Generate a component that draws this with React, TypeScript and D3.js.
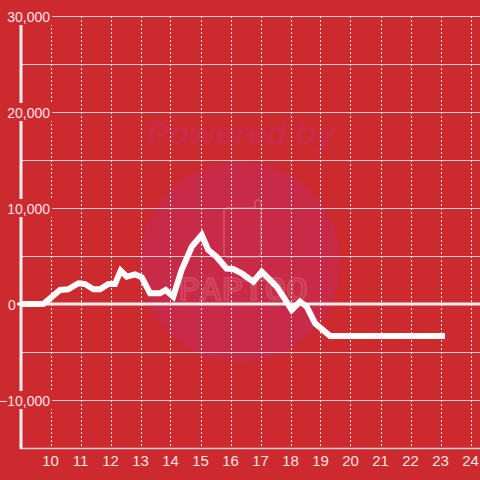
import React, { useEffect, useRef } from "react";
import * as d3 from "d3";

const times = [9.0, 9.76, 10.32, 10.59, 10.93, 11.15, 11.43, 11.65, 11.93, 12.15, 12.34, 12.54, 12.82, 13.04, 13.32, 13.65, 13.84, 14.09, 14.37, 14.71, 15.04, 15.26, 15.54, 15.87, 16.09, 16.37, 16.76, 17.04, 17.54, 17.76, 18.04, 18.32, 18.54, 18.82, 19.32, 23.15];
const values = [0, 0, 1460, 1530, 2160, 2080, 1530, 1530, 2080, 2080, 3470, 2840, 3090, 2780, 1110, 1110, 1460, 760, 3540, 5970, 7190, 5625, 4900, 3700, 3650, 3200, 2320, 3360, 1800, 760, -625, 240, -280, -2010, -3330, -3330];
const xTicks = [10, 11, 12, 13, 14, 15, 16, 17, 18, 19, 20, 21, 22, 23, 24];
const yGrid = [-15000, -10000, -5000, 0, 5000, 10000, 15000, 20000, 25000, 30000];
const yLabels = [-10000, 0, 10000, 20000, 30000];

const W = 480, H = 480;
const BG = "#cd2a2f";
const TXT = "#f3e4e4";

export default function App() {
  const ref = useRef<SVGSVGElement>(null);
  useEffect(() => {
    const svg = d3.select(ref.current);
    svg.selectAll("*").remove();
    const x = d3.scaleLinear().domain([9, 24]).range([20.5, 470.5]);
    const y = d3.scaleLinear().domain([-15000, 30000]).range([448, 16]);

    svg.append("rect").attr("width", W).attr("height", H).attr("fill", BG);

    // watermark
    svg.append("circle").attr("cx", 240).attr("cy", 262).attr("r", 100).attr("fill", "#c92a48");
    svg.append("text").attr("x", 147).attr("y", 144)
      .attr("font-family", "Liberation Sans, Arial, sans-serif").attr("font-size", 32)
      .attr("font-weight", "bold").attr("font-style", "italic").attr("fill", "#cb2b47")
      .attr("textLength", 188).attr("lengthAdjust", "spacingAndGlyphs")
      .text("Powered by");
    svg.append("path")
      .attr("d", "M228,208 h27 v-5 a3,3 0 0 1 6,0 v50 a4,4 0 0 1 -4,4 h-29 a4,4 0 0 1 -4,-4 v-41 a4,4 0 0 1 4,-4 z")
      .attr("fill", "none").attr("stroke", "#d5586a").attr("stroke-width", 2).attr("opacity", 0.7);
    svg.append("text").attr("x", 178).attr("y", 300)
      .attr("font-family", "DejaVu Sans Mono, monospace").attr("font-size", 30)
      .attr("fill", "none").attr("stroke", "#d5586a").attr("stroke-width", 2).attr("opacity", 0.6)
      .attr("textLength", 130).attr("lengthAdjust", "spacingAndGlyphs")
      .text("PAPTOO");

    // horizontal gridlines
    svg.append("g").selectAll("line").data(yGrid.filter(v => v !== 0 && v !== -15000)).join("line")
      .attr("x1", 20).attr("x2", W).attr("y1", d => Math.round(y(d)) + 0.5).attr("y2", d => Math.round(y(d)) + 0.5)
      .attr("stroke", "#d6d0d0").attr("stroke-width", 1);

    // vertical dashed gridlines
    svg.append("g").selectAll("line").data(xTicks).join("line")
      .attr("x1", d => Math.round(x(d)) + 0.5).attr("x2", d => Math.round(x(d)) + 0.5)
      .attr("y1", y(30000)).attr("y2", y(-15000))
      .attr("stroke", "#ece6e6").attr("stroke-width", 1).attr("stroke-dasharray", "2,2");

    // bottom axis line
    svg.append("line").attr("x1", 20).attr("x2", W).attr("y1", 448.5).attr("y2", 448.5)
      .attr("stroke", "#d6d0d0").attr("stroke-width", 1.5);

    // zero line
    svg.append("line").attr("x1", 17).attr("x2", W).attr("y1", y(0)).attr("y2", y(0))
      .attr("stroke", "#f4f0f0").attr("stroke-width", 3);

    // y axis
    svg.append("line").attr("x1", 21).attr("x2", 21).attr("y1", y(30000)).attr("y2", 449)
      .attr("stroke", "#f4f0f0").attr("stroke-width", 3);

    // y labels with background
    const fmt = d3.format(",");
    const yl = svg.append("g");
    yLabels.forEach(v => {
      const g = yl.append("g");
      const isZero = v === 0;
      const t = g.append("text").attr("x", isZero ? 8 : 50).attr("y", y(v) + 5.5)
        .attr("text-anchor", isZero ? "start" : "end")
        .attr("font-family", "Liberation Sans, Arial, sans-serif").attr("font-size", 14)
        .attr("fill", TXT).text(fmt(v));
      if (!isZero) {
        const bb = (t.node() as SVGTextElement).getBBox();
        g.insert("rect", "text").attr("x", bb.x - 1).attr("y", y(v) - 9).attr("width", bb.width + 3).attr("height", 18)
          .attr("fill", BG);
      }
    });

    // data line
    const line = d3.line<number>().x((_, i) => x(times[i])).y(d => y(d));
    svg.append("path").attr("d", line(values)).attr("fill", "none")
      .attr("stroke", "#ffffff").attr("stroke-width", 6).attr("stroke-linejoin", "miter")
      .attr("stroke-linecap", "butt");

    // x labels
    svg.append("g").selectAll("text").data(xTicks).join("text")
      .attr("x", d => x(d)).attr("y", 466).attr("text-anchor", "middle")
      .attr("font-family", "Liberation Sans, Arial, sans-serif").attr("font-size", 15)
      .attr("fill", TXT).text(d => String(d));
  }, []);
  return (
    <svg ref={ref} width={W} height={H} style={{ position: "absolute", left: 0, top: 0 }} />
  );
}
